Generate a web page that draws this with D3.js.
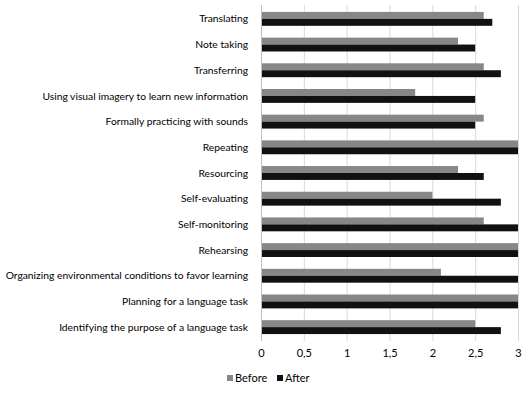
<!DOCTYPE html>
<html>
<head>
<meta charset="utf-8">
<script src="https://cdn.jsdelivr.net/npm/d3@7"></script>
<style>
  body { margin: 0; background: #fff; }
  text { font-family: Lato, "Open Sans", sans-serif; fill: #000; }
</style>
</head>
<body>
<div id="chart"></div>
<script>
let w = 528;
let h = 395;

// categories, top to bottom
const categories = [
    "Translating",
    "Note taking",
    "Transferring",
    "Using visual imagery to learn new information",
    "Formally practicing with sounds",
    "Repeating",
    "Resourcing",
    "Self-evaluating",
    "Self-monitoring",
    "Rehearsing",
    "Organizing environmental conditions to favor learning",
    "Planning for a language task",
    "Identifying the purpose of a language task"
];
const before = [2.6, 2.3, 2.6, 1.8, 2.6, 3, 2.3, 2.0, 2.6, 3, 2.1, 3, 2.5];
const after  = [2.7, 2.5, 2.8, 2.5, 2.5, 3, 2.6, 2.8, 3, 3, 3, 3, 2.8];
const series = ["Before", "After"];
const seriesColors = ["#878787", "#111111"];
const ticks = [0, 0.5, 1, 1.5, 2, 2.5, 3];

const plotTop = 5;
const plotBottom = 341;

let svg = d3.select("#chart")
    .append("svg")
    .attr("width", w)
    .attr("height", h);

let x = d3.scaleLinear()
    .domain([0, 3])
    .range([261, 518]);

let y = d3.scaleBand()
    .domain(categories)
    .range([plotTop, plotBottom])
    .paddingInner(0.46)
    .paddingOuter(0.27);

let ySub = d3.scaleBand()
    .domain(series)
    .range([0, y.bandwidth()]);

// gridlines
svg.append("g")
    .selectAll("line")
    .data(ticks)
    .enter()
    .append("line")
    .attr("x1", d => x(d) + 0.5)
    .attr("x2", d => x(d) + 0.5)
    .attr("y1", plotTop)
    .attr("y2", plotBottom)
    .style("stroke", "#d9d9d9")
    .style("stroke-width", 1);

// bars
const rows = categories.map((c, i) => ({cat: c, vals: [before[i], after[i]]}));
let groups = svg.append("g")
    .selectAll("g")
    .data(rows)
    .enter()
    .append("g")
    .attr("transform", d => "translate(0," + y(d.cat) + ")");

groups.selectAll("rect")
    .data(d => d.vals.map((v, k) => ({key: series[k], v: v, k: k})))
    .enter()
    .append("rect")
    .attr("x", x(0))
    .attr("y", d => ySub(d.key))
    .attr("width", d => x(d.v) - x(0))
    .attr("height", ySub.bandwidth())
    .attr("fill", d => seriesColors[d.k]);

// left axis line
svg.append("line")
    .attr("x1", x(0) + 0.5).attr("x2", x(0) + 0.5)
    .attr("y1", plotTop).attr("y2", plotBottom)
    .style("stroke", "#bfbfbf");

// category labels
svg.append("g")
    .selectAll("text")
    .data(categories)
    .enter()
    .append("text")
    .attr("x", 248)
    .attr("y", d => y(d) + y.bandwidth() / 2 + 1)
    .attr("text-anchor", "end")
    .attr("dominant-baseline", "middle")
    .style("font-size", "10.3px")
    .text(d => d);

// x axis labels
const fmt = d => String(d).replace(".", ",");
let xAxis = d3.axisBottom(x).tickValues(ticks).tickFormat(fmt).tickSize(0).tickPadding(8);
let gx = svg.append("g")
    .attr("transform", "translate(0," + plotBottom + ")")
    .call(xAxis);
gx.select(".domain").remove();
gx.selectAll("text")
    .style("font-family", "Lato, 'Open Sans', sans-serif")
    .style("font-size", "11px")
    .attr("fill", "#000");

// legend
const legendX = [227, 277];
let legend = svg.append("g")
    .selectAll("g")
    .data(series)
    .enter()
    .append("g")
    .attr("transform", (d, i) => "translate(" + legendX[i] + ",379)");
legend.append("rect")
    .attr("x", 0).attr("y", -4)
    .attr("width", 6).attr("height", 6)
    .attr("fill", (d, i) => seriesColors[i]);
legend.append("text")
    .attr("x", 8).attr("y", 0)
    .attr("dominant-baseline", "middle")
    .style("font-size", "11px")
    .text(d => d);
</script>
</body>
</html>
